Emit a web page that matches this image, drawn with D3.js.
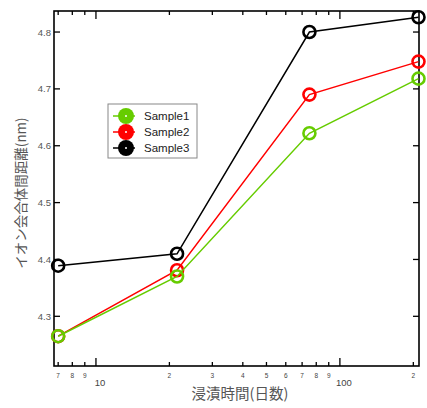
<!DOCTYPE html>
<html>
<head>
<meta charset="utf-8">
<script src="https://cdn.jsdelivr.net/npm/d3@7"></script>
<style>
  body { margin: 0; background: #fff; }
  text { font-family: "Liberation Sans", Arial, sans-serif; }
</style>
</head>
<body>
<svg width="427" height="408"></svg>
<script>
// immersion days and distance per sample
const days = [7, 21.5, 75, 210]
const sample1 = [4.265, 4.37, 4.622, 4.718]
const sample2 = [4.265, 4.381, 4.69, 4.748]
const sample3 = [4.389, 4.41, 4.8, 4.826]
const seriesNames = ['Sample1', 'Sample2', 'Sample3']
const seriesColors = ['#66cc00', '#ff0000', '#000000']
const yTicks = [4.3, 4.4, 4.5, 4.6, 4.7, 4.8]
const xMinor = [7, 8, 9, 20, 30, 40, 50, 60, 70, 80, 90, 200]
const xMajor = [10, 100]

const svg = d3.select('svg')
const plotL = 54, plotR = 419, plotT = 11, plotB = 366

const x = d3.scaleLog().domain([6.73, 211]).range([plotL, plotR])
const y = d3.scaleLinear().domain([4.2126, 4.837]).range([plotB, plotT])

const g = svg.append('g')

// frame
g.append('rect')
  .attr('x', plotL).attr('y', plotT)
  .attr('width', plotR - plotL).attr('height', plotB - plotT)
  .attr('fill', 'none').attr('stroke', '#000').attr('stroke-width', 1.6)

// x ticks (bottom + top, inward)
const allX = xMinor.map(v => ({ v, len: 4 })).concat(xMajor.map(v => ({ v, len: 8 })))
allX.forEach(t => {
  g.append('line')
    .attr('x1', x(t.v)).attr('x2', x(t.v))
    .attr('y1', plotB).attr('y2', plotB - t.len)
    .attr('stroke', '#000').attr('stroke-width', 1.3)
  g.append('line')
    .attr('x1', x(t.v)).attr('x2', x(t.v))
    .attr('y1', plotT).attr('y2', plotT + t.len)
    .attr('stroke', '#000').attr('stroke-width', 1.3)
})
xMinor.forEach(v => {
  g.append('text')
    .attr('x', x(v)).attr('y', plotB + 12)
    .attr('text-anchor', 'middle')
    .attr('font-size', 6.5).attr('fill', '#444')
    .text(String(v).charAt(0))
})
xMajor.forEach(v => {
  g.append('text')
    .attr('x', x(v) + 4).attr('y', plotB + 20)
    .attr('text-anchor', 'middle')
    .attr('font-size', 9.5).attr('fill', '#444')
    .text(v)
})

// y ticks (left + right, inward)
yTicks.forEach(v => {
  g.append('line')
    .attr('x1', plotL).attr('x2', plotL + 6)
    .attr('y1', y(v)).attr('y2', y(v))
    .attr('stroke', '#000').attr('stroke-width', 1.3)
  g.append('line')
    .attr('x1', plotR).attr('x2', plotR - 6)
    .attr('y1', y(v)).attr('y2', y(v))
    .attr('stroke', '#000').attr('stroke-width', 1.3)
  g.append('text')
    .attr('x', plotL - 3).attr('y', y(v) + 3.5)
    .attr('text-anchor', 'end')
    .attr('font-size', 9.5).attr('fill', '#555')
    .text(v.toFixed(1))
})

// axis labels
svg.append('text')
  .attr('x', 240).attr('y', 399)
  .attr('text-anchor', 'middle')
  .attr('font-size', 14.5).attr('fill', '#555')
  .style('font-family', '"Noto Sans CJK JP", sans-serif')
  .text('浸漬時間(日数)')

svg.append('text')
  .attr('transform', 'translate(26,193) rotate(-90)')
  .attr('text-anchor', 'middle')
  .attr('font-size', 13.5).attr('fill', '#555')
  .style('font-family', '"Noto Sans CJK JP", sans-serif')
  .text('イオン会合体間距離(nm)')

// lines and markers (drawn back to front: Sample3 first)
const line = d3.line().x(d => x(d[0])).y(d => y(d[1]))
const allSeries = [sample1, sample2, sample3]

;[2, 1, 0].forEach(i => {
  const vals = allSeries[i]
  const pts = days.map((d, j) => [d, vals[j]])
  g.append('path')
    .attr('d', line(pts))
    .attr('fill', 'none')
    .attr('stroke', seriesColors[i]).attr('stroke-width', 1.5)
  g.selectAll(null)
    .data(pts)
    .join('circle')
    .attr('cx', d => x(d[0])).attr('cy', d => y(d[1]))
    .attr('r', 6)
    .attr('fill', 'none')
    .attr('stroke', seriesColors[i]).attr('stroke-width', 2.6)
})

// legend
const lg = svg.append('g').attr('transform', 'translate(108,104)')
lg.append('rect')
  .attr('width', 89).attr('height', 54)
  .attr('fill', '#fff').attr('stroke', '#888').attr('stroke-width', 1)
seriesNames.forEach((name, i) => {
  const cy = 12 + i * 16
  lg.append('line')
    .attr('x1', 5).attr('x2', 27).attr('y1', cy).attr('y2', cy)
    .attr('stroke', seriesColors[i]).attr('stroke-width', 1.5)
  lg.append('circle')
    .attr('cx', 18).attr('cy', cy).attr('r', 8)
    .attr('fill', seriesColors[i])
  lg.append('circle')
    .attr('cx', 18).attr('cy', cy).attr('r', 1)
    .attr('fill', '#fff')
  lg.append('text')
    .attr('x', 36).attr('y', cy + 4)
    .attr('font-size', 11.5).attr('fill', '#222')
    .text(name)
})
</script>
</body>
</html>
